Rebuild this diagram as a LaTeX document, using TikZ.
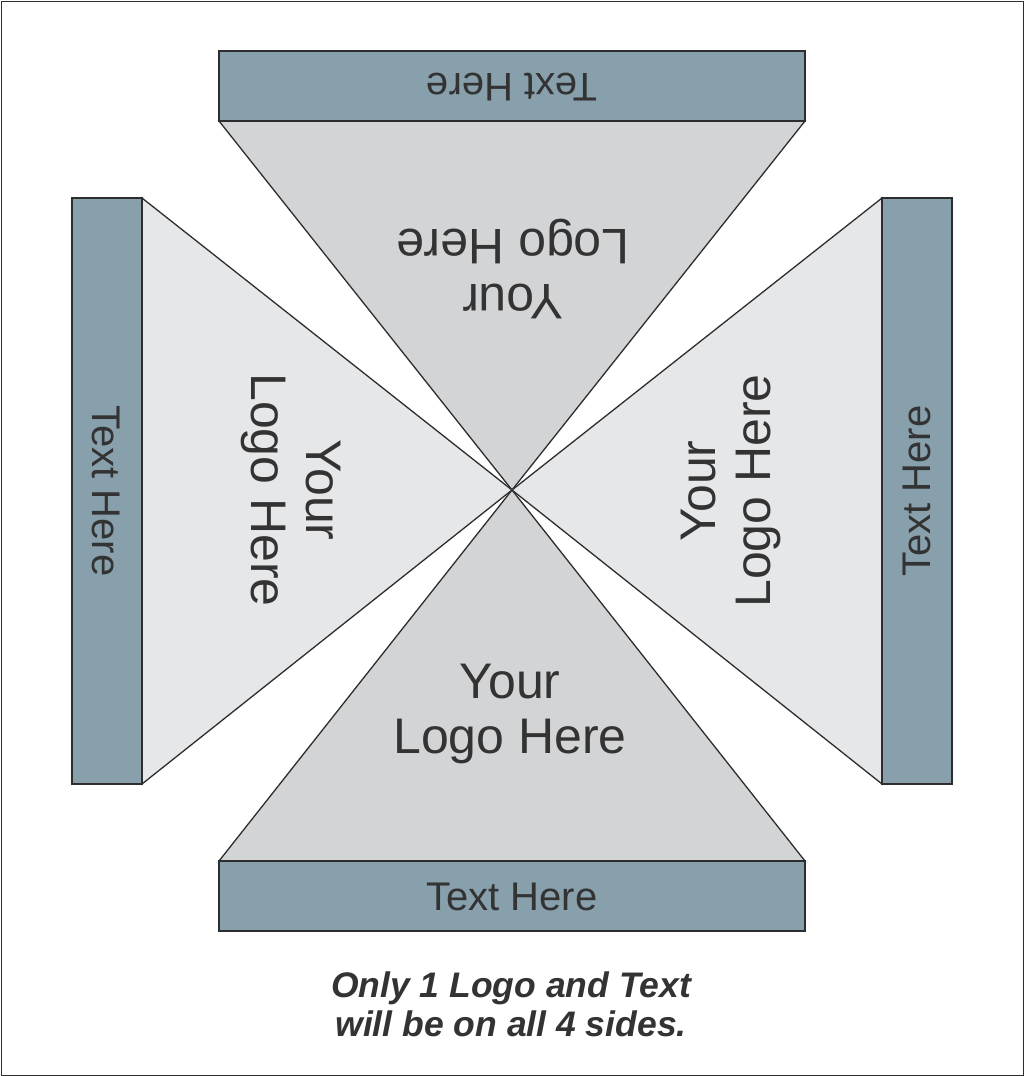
\documentclass[tikz,border=0pt]{standalone}
\usepackage{fontspec}
\setmainfont{Liberation Sans}
\definecolor{barfill}{RGB}{135,160,172}
\definecolor{tritb}{RGB}{211,212,214}
\definecolor{trilr}{RGB}{230,231,233}
\definecolor{ink}{RGB}{51,51,51}
\definecolor{edge}{RGB}{45,45,45}
\begin{document}
\begin{tikzpicture}[x=1pt,y=-1pt,
  shapeline/.style={draw=edge,line width=1.3pt,line join=miter},
  bartext/.style={text=ink,font=\fontsize{40}{44}\selectfont,inner sep=0pt},
  logotext/.style={text=ink,font=\fontsize{50}{55}\selectfont,align=center,inner sep=0pt},
  notetext/.style={text=ink,font=\bfseries\itshape\fontsize{35.5}{39}\selectfont,align=center,inner sep=0pt}]
\useasboundingbox (0,0) rectangle (1024,1076);
\draw[draw=edge,line width=1pt] (1,1) rectangle (1023,1075);
\coordinate (c) at (512,490);
% triangles
\draw[shapeline,fill=tritb] (219,121) -- (805,121) -- (c) -- cycle;
\draw[shapeline,fill=tritb] (219,861) -- (805,861) -- (c) -- cycle;
\draw[shapeline,fill=trilr] (142,198) -- (142,784) -- (c) -- cycle;
\draw[shapeline,fill=trilr] (882,198) -- (882,784) -- (c) -- cycle;
% bars
\draw[shapeline,fill=barfill] (219,51) rectangle (805,121);
\draw[shapeline,fill=barfill] (219,861) rectangle (805,931);
\draw[shapeline,fill=barfill] (72,198) rectangle (142,784);
\draw[shapeline,fill=barfill] (882,198) rectangle (952,784);
% bar texts
\node[bartext,rotate=180] (ttop) at (512,87) {Text Here};
\node[bartext] (tbot) at (512,897) {Text Here};
\node[bartext,rotate=-90] (tleft) at (106,491) {Text Here};
\node[bartext,rotate=90] (tright) at (917,491) {Text Here};
% logo texts
\node[logotext,rotate=180] (ltop) at (513,269) {Your\\Logo Here};
\node[logotext] (lbot) at (510,714) {Your\\Logo Here};
\node[logotext,rotate=-90] (lleft) at (291,490) {Your\\Logo Here};
\node[logotext,rotate=90] (lright) at (731,491) {Your\\Logo Here};
% note
\node[notetext] (note) at (511,1004) {Only 1 Logo and Text\\will be on all 4 sides.};
\end{tikzpicture}
\end{document}
